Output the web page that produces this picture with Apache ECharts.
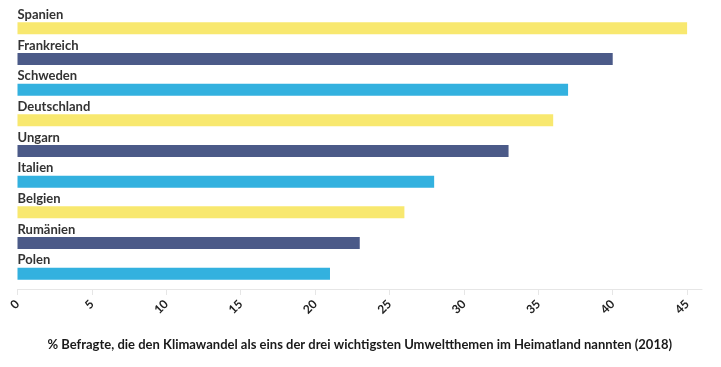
<!DOCTYPE html>
<html>
<head>
<meta charset="utf-8">
<script src="https://cdn.jsdelivr.net/npm/echarts@6/dist/echarts.min.js"></script>
<style>html,body{margin:0;padding:0;background:#fff}#c{width:721px;height:367px}</style>
</head>
<body>
<div id="c"></div>
<script>
const categories = ['Spanien','Frankreich','Schweden','Deutschland','Ungarn','Italien','Belgien','Rumänien','Polen'];
const values = [45, 40, 37, 36, 33, 28, 26, 23, 21];
const barColors = ['#F8E86F','#4B5A88','#33B1DF','#F8E86F','#4B5A88','#33B1DF','#F8E86F','#4B5A88','#33B1DF'];
const tickValues = [0,5,10,15,20,25,30,35,40,45];
const axisTitle = '% Befragte, die den Klimawandel als eins der drei wichtigsten Umweltthemen im Heimatland nannten (2018)';
const FONT = 'Lato';

const chart = echarts.init(document.getElementById('c'), null, {renderer:'canvas'});
chart.setOption({
  animation:false,
  grid:{left:17.5, right:19, top:13, bottom:78, containLabel:false},
  xAxis:{
    type:'value', min:0, max:46,
    axisLine:{show:true, lineStyle:{color:'#e6e6e6', width:1}},
    axisTick:{show:true, customValues:tickValues, length:6, lineStyle:{color:'#e6e6e6'}},
    axisLabel:{customValues:tickValues, rotate:45, color:'#222', fontFamily:FONT, fontWeight:'bold', fontSize:12, margin:13},
    splitLine:{show:false},
    name:axisTitle, nameLocation:'middle', nameGap:49,
    nameTextStyle:{color:'#1a1a1a', fontFamily:FONT, fontWeight:'bold', fontSize:13}
  },
  yAxis:{
    type:'category', data:categories, inverse:true,
    axisLine:{show:false}, axisTick:{show:false}, axisLabel:{show:false}
  },
  series:[{
    type:'bar', barWidth:12,
    data: values.map((v,i)=>({value:v, itemStyle:{color:barColors[i]}})),
    label:{show:true, position:[0,-1], verticalAlign:'bottom', align:'left', formatter:'{b}',
      color:'#333', fontFamily:FONT, fontWeight:'bold', fontSize:13}
  }]
});
</script>
</body>
</html>
